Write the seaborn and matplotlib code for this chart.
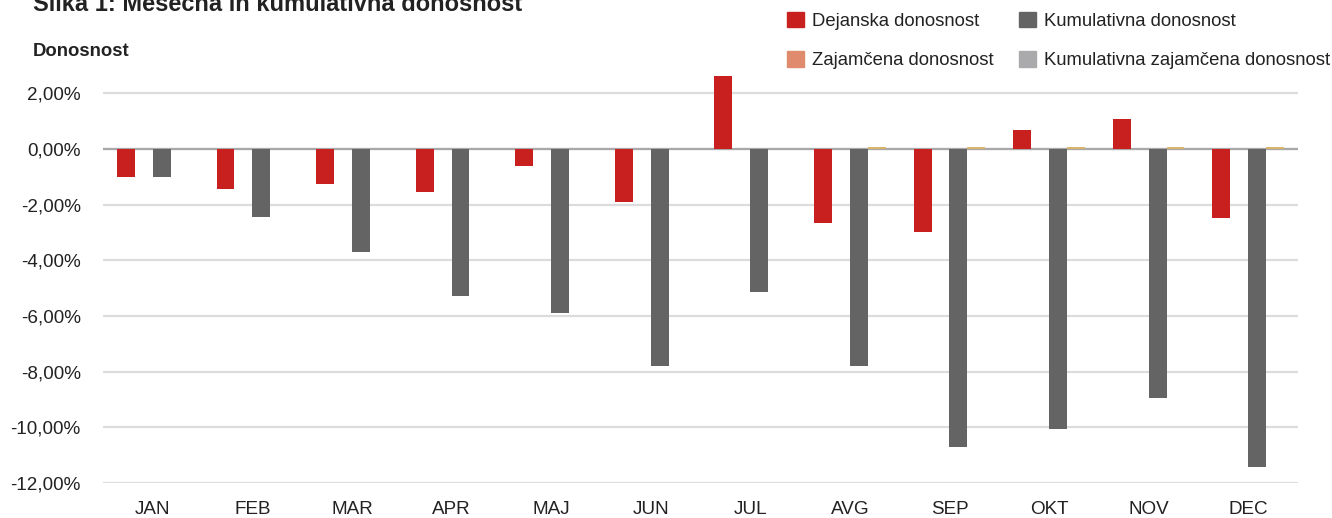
import matplotlib
matplotlib.use("Agg")
import matplotlib.pyplot as plt
import matplotlib.patches as mpatches
import seaborn as sns
import pandas as pd

# ---- data ----
meseci = ["JAN", "FEB", "MAR", "APR", "MAJ", "JUN", "JUL", "AVG", "SEP", "OKT", "NOV", "DEC"]
dejanska = [-1.00, -1.45, -1.25, -1.55, -0.60, -1.90, 2.62, -2.65, -3.00, 0.68, 1.07, -2.50]
zajamcena = [0.0] * 12
kumulativna = [-1.00, -2.45, -3.70, -5.27, -5.88, -7.78, -5.13, -7.78, -10.72, -10.07, -8.96, -11.43]
kum_zajamcena = [0.0, 0.0, 0.0, 0.0, 0.0, 0.0, 0.01, 0.05, 0.05, 0.05, 0.05, 0.06]
serije = ["Dejanska donosnost", "Zajamčena donosnost", "Kumulativna donosnost",
          "Kumulativna zajamčena donosnost"]
yticks = [2, 0, -2, -4, -6, -8, -10, -12]

rows = []
for name, vals in zip(serije, [dejanska, zajamcena, kumulativna, kum_zajamcena]):
    for m, v in zip(meseci, vals):
        rows.append({"mesec": m, "vrednost": v, "serija": name})
df = pd.DataFrame(rows)

bar_colors = ["#C8201E", "#E08B6E", "#646464", "#D8B36A"]
legend_colors = ["#C8201E", "#E08B6E", "#646464", "#AAAAAD"]

sns.set_style("white")
plt.rcParams["font.family"] = ["Liberation Sans", "DejaVu Sans"]

fig = plt.figure(figsize=(13.32, 5.18), dpi=100)
ax = fig.add_axes([103 / 1332, 1 - 483 / 518, (1298 - 103) / 1332, (483 - 73.7) / 518])

sns.barplot(data=df, x="mesec", y="vrednost", hue="serija", hue_order=serije,
            order=meseci, palette=bar_colors, width=0.72, gap=0, saturation=1,
            linewidth=0, legend=False, ax=ax, errorbar=None, zorder=4)

ax.set_xlim(-0.5, 11.5)
ax.set_ylim(-12, 2.7)
ax.set_yticks(yticks)
ax.set_yticklabels([f"{t:.2f}%".replace(".", ",") for t in yticks])
ax.set_axisbelow(True)
ax.grid(axis="y", color="#DCDCDC", linewidth=1.6)
ax.grid(axis="x", visible=False)
ax.axhline(0, color="#A8A8AA", linewidth=1.6, zorder=3)
for s in ax.spines.values():
    s.set_visible(False)
ax.tick_params(axis="y", length=0, pad=16, labelsize=13.6, labelcolor="#222222")
ax.tick_params(axis="x", length=0, pad=13, labelsize=13.6, labelcolor="#222222")
ax.set_xlabel("")
ax.set_ylabel("")

fig.text(33 / 1332, 1 - 11 / 518, "Slika 1: Mesečna in kumulativna donosnost",
         fontsize=17, fontweight="bold", color="#222222", ha="left", va="baseline")
fig.text(33 / 1332, 1 - 52 / 518, "Donosnost", fontsize=13.3, fontweight="bold",
         color="#222222", ha="left", va="center")

handles = [mpatches.Patch(color=c, label=l) for c, l in zip(legend_colors, serije)]
fig.legend(handles=handles, ncol=2, loc="upper left",
           bbox_to_anchor=(787 / 1332, 1 - 12 / 518), frameon=False,
           fontsize=13.3, handlelength=0.9, handleheight=0.9, handletextpad=0.45,
           columnspacing=1.38, labelspacing=1.15, borderpad=0, borderaxespad=0,
           labelcolor="#222222")

fig.savefig("out.png", dpi=100)
